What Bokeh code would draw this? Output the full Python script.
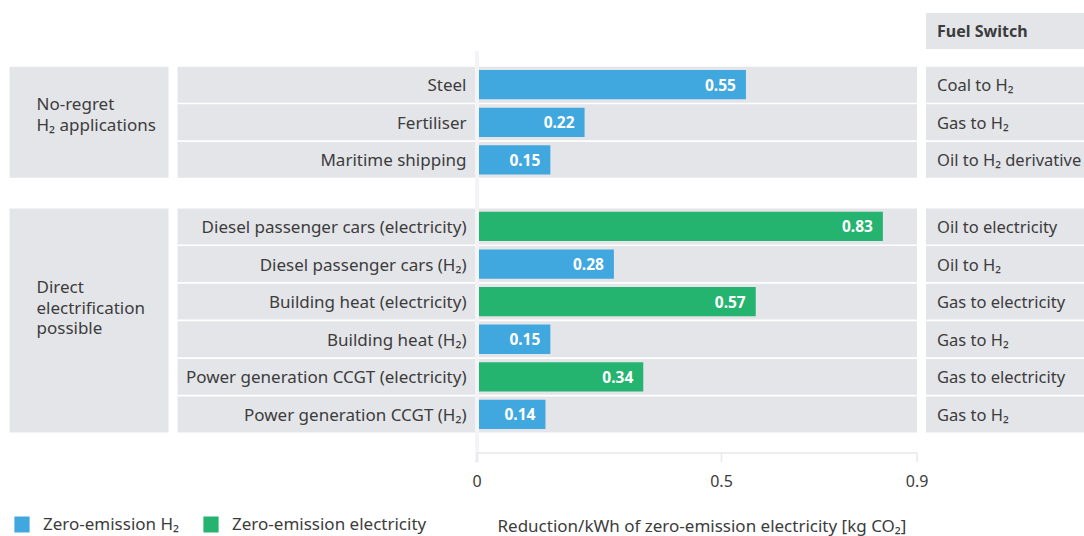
from bokeh.plotting import figure
from bokeh.models import Range1d, ColumnDataSource, Legend, LegendItem
from bokeh.core.properties import value
from bokeh.embed import file_html
from bokeh.resources import INLINE

# ---- data -------------------------------------------------------------
applications = [
    "Steel",
    "Fertiliser",
    "Maritime shipping",
    "Diesel passenger cars (electricity)",
    "Diesel passenger cars (H₂)",
    "Building heat (electricity)",
    "Building heat (H₂)",
    "Power generation CCGT (electricity)",
    "Power generation CCGT (H₂)",
]
reduction = [0.55, 0.22, 0.15, 0.83, 0.28, 0.57, 0.15, 0.34, 0.14]
carrier = ["H2", "H2", "H2", "elec", "H2", "elec", "H2", "elec", "H2"]
fuel_switch = [
    "Coal to H₂",
    "Gas to H₂",
    "Oil to H₂ derivative",
    "Oil to electricity",
    "Oil to H₂",
    "Gas to electricity",
    "Gas to H₂",
    "Gas to electricity",
    "Gas to H₂",
]
group_names = ["No-regret\nH₂ applications", "Direct\nelectrification\npossible"]
group_sizes = [3, 6]
x_ticks = [0, 0.5, 0.9]
x_tick_labels = ["0", "0.5", "0.9"]
carrier_order = ["H2", "elec"]
carrier_labels = {"H2": "Zero-emission H₂", "elec": "Zero-emission electricity"}
fuel_switch_title = "Fuel Switch"
axis_title = "Reduction/kWh of zero-emission electricity [kg CO₂]"

# ---- styling / layout -------------------------------------------------
FONT_NAME = "Noto Sans"
FONT = value(FONT_NAME)
SIZE = "17px"
TEXT = "#3c3c3c"
PANEL = "#e4e5e9"
COLORS = {"H2": "#40a8df", "elec": "#25b46f"}
RULE = "#e9e9ec"

W, H = 1084, 536
ZERO_PX = 476.5          # screen x of value 0
PX_PER_UNIT = 489.0      # screen px per kg CO2
ROW0_PX = 84.2           # screen y of the first row centre
ROW_PX = 37.6            # row pitch
GROUP_GAP = 0.77         # extra space between groups, in rows
PANEL_H = 0.955          # panel height, in rows
BAR_H = 0.78             # bar height, in rows
GROUP_LABEL_SHIFT = [-0.22, -0.35]   # group captions sit a little above centre


def sx(px):
    return (px - ZERO_PX) / PX_PER_UNIT


def sy(px):
    return (px - ROW0_PX) / ROW_PX


# row positions, with a gap between the two groups
row_y, group_top, group_bottom = [], [], []
pos = 0.0
for size in group_sizes:
    group_top.append(pos - PANEL_H / 2)
    for _ in range(size):
        row_y.append(pos)
        pos += 1
    group_bottom.append(pos - 1 + PANEL_H / 2)
    pos += GROUP_GAP

p = figure(
    width=W, height=H,
    x_range=Range1d(sx(0), sx(W)),
    y_range=Range1d(sy(H), sy(0)),
    x_axis_location=None, y_axis_location=None,
    toolbar_location=None, output_backend="svg",
    min_border=0, outline_line_color=None,
    background_fill_color="white", border_fill_color="white",
)
p.xgrid.visible = False
p.ygrid.visible = False

# ---- panels -----------------------------------------------------------
p.quad(left=sx(9), right=sx(168), top=group_top, bottom=group_bottom,
       fill_color=PANEL, line_color=None)
p.quad(left=sx(177), right=sx(916.5),
       top=[y - PANEL_H / 2 for y in row_y], bottom=[y + PANEL_H / 2 for y in row_y],
       fill_color=PANEL, line_color=None)
p.quad(left=sx(925.5), right=sx(W + 5),
       top=[y - PANEL_H / 2 for y in row_y], bottom=[y + PANEL_H / 2 for y in row_y],
       fill_color=PANEL, line_color=None)
header_y = sy(30.5)
p.quad(left=sx(925.5), right=sx(W + 5), top=header_y - PANEL_H / 2,
       bottom=header_y + PANEL_H / 2, fill_color=PANEL, line_color=None)

# ---- bars -------------------------------------------------------------
renderers = {}
for c in carrier_order:
    idx = [i for i, k in enumerate(carrier) if k == c]
    src = ColumnDataSource(dict(
        y=[row_y[i] for i in idx],
        v=[reduction[i] for i in idx],
        lab=[f"{reduction[i]:.2f}" for i in idx],
    ))
    renderers[c] = p.hbar(y="y", left=0, right="v", height=BAR_H, source=src,
                          fill_color=COLORS[c], line_color=None)
    p.text(x="v", y="y", text="lab", source=src, x_offset=-10,
           text_align="right", text_baseline="middle",
           text_font=FONT, text_font_size="15.5px", text_font_style="bold",
           text_color="white")

# zero line running through the chart
p.segment(x0=0, x1=0, y0=sy(50.5), y1=sy(462), line_color="#f4f4f6", line_width=4)

# ---- labels -----------------------------------------------------------
p.text(x=[sx(466)] * len(applications), y=row_y, text=applications,
       text_align="right", text_baseline="middle", text_font=FONT,
       text_font_size=SIZE, text_color=TEXT)
p.text(x=[sx(936.5)] * len(fuel_switch), y=row_y, text=fuel_switch,
       text_align="left", text_baseline="middle", text_font=FONT,
       text_font_size="16.5px", text_color=TEXT)
p.text(x=[sx(936.5)], y=[header_y], text=[fuel_switch_title],
       text_align="left", text_baseline="middle", text_font=FONT,
       text_font_size="16px", text_font_style="bold", text_color=TEXT)

group_centre = [(t + b) / 2 + s for t, b, s in zip(group_top, group_bottom, GROUP_LABEL_SHIFT)]
p.text(x=[sx(36)] * len(group_names), y=group_centre, text=group_names,
       text_align="left", text_baseline="middle", text_font=FONT,
       text_font_size=SIZE, text_color=TEXT, text_line_height=0.9)

# ---- value axis -------------------------------------------------------
axis_y = sy(452.5)
p.segment(x0=x_ticks[0], x1=x_ticks[-1], y0=axis_y, y1=axis_y,
          line_color=RULE, line_width=1.5)
p.segment(x0=x_ticks, x1=x_ticks, y0=[axis_y] * len(x_ticks),
          y1=[sy(461.5)] * len(x_ticks), line_color=RULE, line_width=1.5)
p.text(x=x_ticks, y=[sy(480)] * len(x_ticks), text=x_tick_labels,
       text_align="center", text_baseline="middle", text_font=FONT,
       text_font_size="16px", text_color=TEXT)
p.text(x=[sx(497)], y=[sy(524.5)], text=[axis_title],
       text_align="left", text_baseline="middle", text_font=FONT,
       text_font_size=SIZE, text_color=TEXT)

# ---- legend -----------------------------------------------------------
legend = Legend(
    items=[LegendItem(label=carrier_labels[c], renderers=[renderers[c]]) for c in carrier_order],
    orientation="horizontal", location=(12, 1),
    padding=0, margin=0, spacing=22, label_standoff=12,
    glyph_width=19, glyph_height=20,
    label_text_font=FONT_NAME, label_text_font_size=SIZE, label_text_color=TEXT,
    border_line_color=None, background_fill_alpha=0,
)
p.add_layout(legend)

open("out.html", "w").write(file_html(p, INLINE))
